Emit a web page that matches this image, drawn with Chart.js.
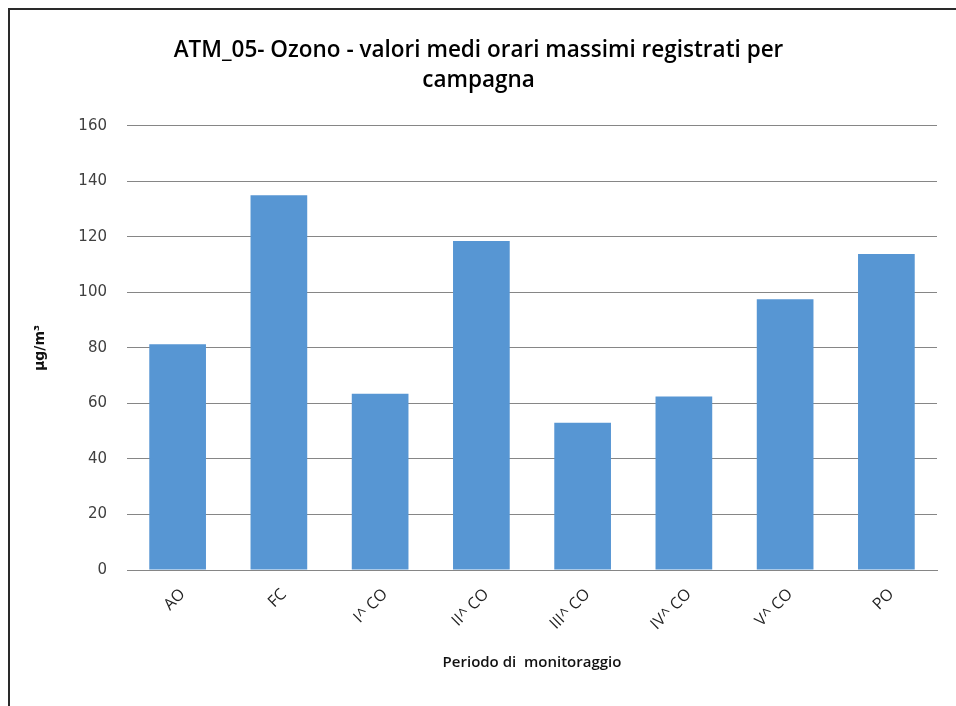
<!DOCTYPE html>
<html>
<head>
<meta charset="utf-8">
<script src="https://cdn.jsdelivr.net/npm/chart.js@4"></script>
<style>
  html, body { margin: 0; padding: 0; background: #fff; overflow: hidden; }
  #wrap { position: relative; width: 956px; height: 706px; }
  #frame { position: absolute; left: 8px; top: 8px; width: 1000px; height: 800px;
           border-left: 2px solid #2a2a2a; border-top: 2px solid #2a2a2a; pointer-events: none; }
  canvas { position: absolute; left: 0; top: 0; }
</style>
</head>
<body>
<div id="wrap">
  <canvas id="chart" width="956" height="706"></canvas>
  <div id="frame"></div>
</div>
<script>
// Chart data
const categorie = ['AO', 'FC', 'I^ CO', 'II^ CO', 'III^ CO', 'IV^ CO', 'V^ CO', 'PO'];
const valoriOzono = [81.3, 135, 63.5, 118.5, 53, 62.5, 97.5, 113.8];
const yTicks = [0, 20, 40, 60, 80, 100, 120, 140, 160];

const sansFont = "'Open Sans', sans-serif";

const ctx = document.getElementById('chart').getContext('2d');
const chart = new Chart(ctx, {
  type: 'bar',
  data: {
    labels: categorie,
    datasets: [{
      label: 'Ozono',
      data: valoriOzono,
      backgroundColor: '#5796d3',
      categoryPercentage: 1,
      barPercentage: 0.56
    }]
  },
  options: {
    responsive: false,
    animation: false,
    layout: { padding: { left: 20, right: 19, top: 0, bottom: 30 } },
    plugins: {
      legend: { display: false },
      tooltip: { enabled: false },
      title: {
        display: true,
        text: ['ATM_05- Ozono - valori medi orari massimi registrati per', 'campagna'],
        color: '#000',
        font: { family: sansFont, size: 22.5, weight: '600', lineHeight: 1.35 },
        padding: { top: 35, bottom: 30 }
      }
    },
    scales: {
      x: {
        grid: { display: false },
        border: { display: true, color: '#868686', width: 1 },
        ticks: {
          color: '#222',
          font: { family: sansFont, size: 16 },
          minRotation: 45,
          maxRotation: 45,
          padding: 7,
          labelOffset: 5
        },
        title: {
          display: true,
          text: 'Periodo di  monitoraggio',
          color: '#111',
          font: { family: sansFont, size: 15, weight: '600' },
          padding: { top: 0, bottom: 4 }
        },
        afterFit: (scale) => { scale.height = 106; }
      },
      y: {
        min: 0,
        max: 160,
        afterBuildTicks: (scale) => { scale.ticks = yTicks.map(v => ({ value: v })); },
        grid: { color: '#868686', lineWidth: 1, drawTicks: false },
        border: { display: false },
        ticks: {
          color: '#404040',
          font: { family: "'DejaVu Sans', sans-serif", size: 15 },
          padding: 20
        },
        title: {
          display: true,
          text: 'µg/m³',
          color: '#111',
          font: { family: "'DejaVu Sans', sans-serif", size: 14, weight: 'bold' },
          padding: { top: 12, bottom: 0 }
        },
        afterFit: (scale) => { scale.width = 107; }
      }
    }
  }
});
</script>
</body>
</html>
